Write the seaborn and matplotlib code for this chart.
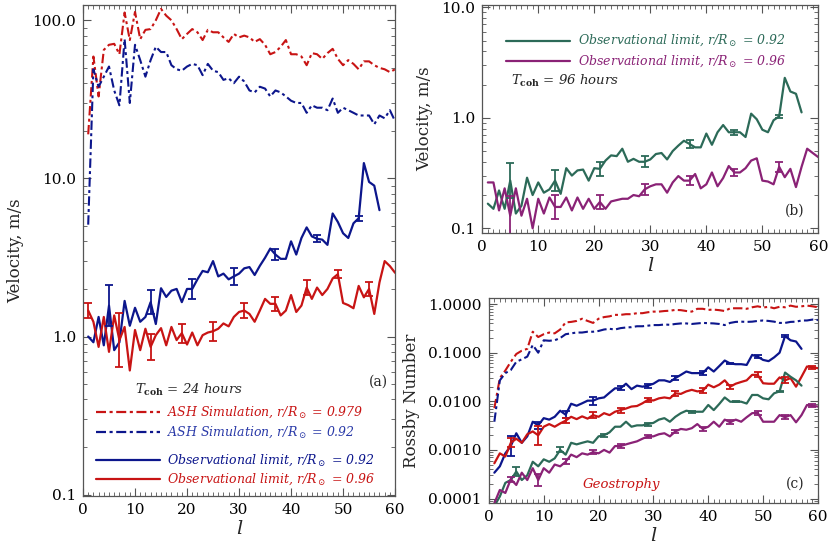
import numpy as np
import pandas as pd
import matplotlib
matplotlib.use('Agg')
import matplotlib.pyplot as plt
import matplotlib.ticker as mticker
import seaborn as sns

# ---------------------------------------------------------
# data
# ---------------------------------------------------------
l_60 = list(range(1, 61))
l_57 = list(range(1, 58))

# (a) velocity, T_coh = 24 h
ash_a_979 = [19, 59, 33, 65, 70, 71, 61, 112, 75, 113, 76, 87, 88, 100, 118, 107, 100, 88, 76, 82,
             88, 84, 75, 87, 84, 84, 78, 73, 82, 78, 80, 78, 73, 76, 70, 61, 63, 68, 75, 61,
             61, 59, 52, 62, 61, 57, 62, 66, 57, 52, 56, 53, 49, 55, 55, 52, 50, 49, 47, 49]
ash_a_92 = [5.1, 49, 38, 44, 51, 36, 29, 76, 30, 70, 56, 44, 56, 68, 63, 63, 52, 49, 48, 51,
            53, 52, 45, 53, 48, 47, 42, 43, 40, 44, 41, 36, 35, 38, 37, 33, 36, 35, 33, 31,
            30, 30, 26, 29, 28, 28, 27, 32, 26, 28, 27, 26, 25, 25, 25, 22, 25, 24, 27, 23]
obs_a_92 = [1.0, 0.92, 1.33, 0.88, 1.57, 0.82, 0.92, 1.68, 1.17, 1.52, 1.24, 1.33, 1.65, 1.2, 2.02,
            1.78, 1.95, 2.0, 1.65, 2.0, 2.0, 2.3, 2.6, 2.55, 3.0, 2.4, 2.5, 2.3, 2.4, 2.5,
            2.7, 2.75, 2.45, 2.8, 3.15, 3.6, 3.3, 3.1, 3.1, 4.0, 3.3, 4.2, 4.9, 4.3, 4.15,
            4.1, 3.8, 6.0, 5.3, 4.5, 4.2, 5.2, 5.6, 12.5, 9.5, 9.0, 6.3]
obs_a_96 = [1.46, 1.24, 0.86, 1.33, 0.80, 1.36, 0.95, 1.15, 0.61, 1.10, 0.82, 1.12, 0.86, 1.02, 1.13,
            0.88, 1.15, 0.95, 1.05, 0.89, 1.06, 0.88, 1.02, 1.06, 1.08, 1.12, 1.21, 1.16, 1.33, 1.43,
            1.46, 1.39, 1.24, 1.46, 1.73, 1.61, 1.61, 1.36, 1.46, 1.83, 1.43, 1.57, 2.04, 1.73, 2.04,
            1.83, 2.0, 2.33, 2.48, 1.63, 1.58, 1.51, 2.09, 1.77, 2.0, 1.39, 2.2, 3.0, 2.79, 2.53]
err_l_a_92 = [5, 13, 21, 29, 37, 45, 53]
err_a_92 = [0.13, 0.077, 0.062, 0.052, 0.035, 0.022, 0.016]       # log10 half width
err_l_a_96 = [1, 7, 13, 19, 25, 31, 37, 43, 49, 55]
err_a_96 = [0.05, 0.17, 0.08, 0.06, 0.06, 0.05, 0.045, 0.047, 0.027, 0.047]

# (b) velocity, T_coh = 96 h
obs_b_92 = [0.167, 0.15, 0.22, 0.15, 0.27, 0.136, 0.16, 0.287, 0.2, 0.26, 0.21, 0.225, 0.27, 0.205,
            0.35, 0.30, 0.334, 0.34, 0.27, 0.35, 0.345, 0.41, 0.457, 0.45, 0.525, 0.40, 0.425, 0.40,
            0.40, 0.42, 0.47, 0.48, 0.42, 0.50, 0.56, 0.62, 0.58, 0.54, 0.54, 0.72, 0.57, 0.74,
            0.86, 0.74, 0.74, 0.74, 0.67, 1.09, 0.97, 0.78, 0.74, 0.95, 1.03, 2.3, 1.73, 1.65, 1.12]
obs_b_96 = [0.26, 0.26, 0.145, 0.23, 0.13, 0.23, 0.13, 0.185, 0.1, 0.185, 0.136, 0.19, 0.156, 0.156,
            0.19, 0.145, 0.19, 0.15, 0.185, 0.15, 0.173, 0.15, 0.175, 0.18, 0.185, 0.185, 0.2, 0.195,
            0.225, 0.24, 0.25, 0.25, 0.21, 0.26, 0.297, 0.27, 0.27, 0.31, 0.23, 0.25, 0.32, 0.24,
            0.285, 0.366, 0.32, 0.32, 0.35, 0.41, 0.43, 0.27, 0.265, 0.25, 0.36, 0.29, 0.345, 0.236,
            0.36, 0.525, 0.48, 0.44]
err_l_b = [5, 13, 21, 29, 37, 45, 53]
err_b_92 = [0.16, 0.096, 0.063, 0.05, 0.035, 0.021, 0.012]
err_b_96 = [0.18, 0.11, 0.06, 0.053, 0.038, 0.03, 0.045]

# (c) Rossby number
ash_c_979 = [0.0072, 0.03, 0.043, 0.065, 0.094, 0.11, 0.12, 0.27, 0.21, 0.24, 0.26, 0.25, 0.3, 0.42,
             0.43, 0.45, 0.5, 0.45, 0.41, 0.5, 0.54, 0.56, 0.6, 0.6, 0.62, 0.62, 0.65, 0.65, 0.68,
             0.7, 0.7, 0.72, 0.73, 0.76, 0.75, 0.72, 0.7, 0.8, 0.8, 0.76, 0.77, 0.75, 0.72, 0.82,
             0.82, 0.82, 0.8, 0.86, 0.9, 0.85, 0.88, 0.82, 0.88, 0.86, 0.93, 0.88, 0.9, 0.93, 0.9, 0.86]
ash_c_92 = [0.0038, 0.027, 0.038, 0.044, 0.065, 0.073, 0.083, 0.144, 0.1, 0.18, 0.176, 0.18, 0.2, 0.24,
            0.25, 0.26, 0.26, 0.27, 0.27, 0.28, 0.3, 0.31, 0.3, 0.32, 0.33, 0.335, 0.35, 0.35, 0.36,
            0.37, 0.37, 0.38, 0.375, 0.39, 0.4, 0.4, 0.39, 0.4, 0.41, 0.405, 0.4, 0.39, 0.37, 0.41,
            0.43, 0.435, 0.43, 0.435, 0.45, 0.46, 0.45, 0.435, 0.41, 0.41, 0.43, 0.435, 0.46, 0.46, 0.48, 0.47]
obs_c_92 = [0.00034, 0.00046, 0.00085, 0.0012, 0.0022, 0.0014, 0.0019, 0.0038, 0.0032, 0.0045,
            0.0042, 0.0048, 0.0064, 0.0053, 0.0089, 0.0081, 0.0091, 0.0103, 0.0103, 0.0115,
            0.012, 0.015, 0.0185, 0.0185, 0.023, 0.0178, 0.021, 0.02, 0.021, 0.023,
            0.027, 0.027, 0.025, 0.03, 0.035, 0.041, 0.038, 0.038, 0.038, 0.05,
            0.041, 0.053, 0.069, 0.06, 0.058, 0.058, 0.056, 0.09, 0.083, 0.071,
            0.067, 0.08, 0.1, 0.22, 0.18, 0.17, 0.12]
obs_c_96 = [0.00053, 0.00085, 0.00073, 0.0014, 0.0017, 0.0014, 0.0021, 0.0024, 0.0020, 0.003,
            0.0034, 0.003, 0.0035, 0.004, 0.0048, 0.0043, 0.0049, 0.0044, 0.0052, 0.0048,
            0.0057, 0.0052, 0.0061, 0.0066, 0.0071, 0.0078, 0.008, 0.0091, 0.0107, 0.0104,
            0.0115, 0.012, 0.0115, 0.0146, 0.0142, 0.016, 0.0172, 0.016, 0.0165, 0.022,
            0.0194, 0.022, 0.027, 0.02, 0.023, 0.025, 0.027, 0.035, 0.035, 0.0235,
            0.023, 0.023, 0.031, 0.027, 0.03, 0.02, 0.032, 0.052, 0.05, 0.048]
obs_c_92g = [0.00007, 0.00011, 0.00021, 0.00024, 0.00036, 0.00024, 0.0003, 0.00057, 0.00046, 0.00064,
             0.00057, 0.00067, 0.001, 0.0008, 0.0014, 0.0013, 0.0014, 0.0015, 0.0014, 0.0019,
             0.002, 0.0023, 0.003, 0.003, 0.0038, 0.003, 0.0032, 0.0032, 0.0034, 0.0036,
             0.0042, 0.0045, 0.0038, 0.0048, 0.0057, 0.0064, 0.0061, 0.0061, 0.0061, 0.0084,
             0.0066, 0.0088, 0.012, 0.0098, 0.0098, 0.0098, 0.009, 0.0135, 0.0135, 0.0115,
             0.011, 0.0146, 0.016, 0.039, 0.032, 0.027, 0.021]
obs_c_96p = [0.00008, 0.00015, 0.00013, 0.00025, 0.00019, 0.00034, 0.00024, 0.00042, 0.00024, 0.00042,
             0.00034, 0.0005, 0.00046, 0.00057, 0.0008, 0.00071, 0.00085, 0.0008, 0.0009, 0.00085,
             0.001, 0.00088, 0.0012, 0.0012, 0.0013, 0.0014, 0.0015, 0.0017, 0.0019, 0.0019,
             0.0021, 0.0022, 0.0019, 0.0024, 0.0027, 0.0026, 0.0028, 0.0034, 0.0027, 0.003,
             0.0038, 0.003, 0.0042, 0.0037, 0.0042, 0.0038, 0.0047, 0.0057, 0.0058, 0.0038,
             0.0038, 0.0038, 0.0052, 0.0047, 0.0052, 0.0037, 0.0052, 0.0084, 0.0081, 0.0078]
err_l_c5 = [4, 9, 14, 19, 24, 29, 34, 39, 44, 49, 54]
err_c_92 = [0.2, 0.07, 0.07, 0.08, 0.04, 0.04, 0.035, 0.035, 0.02, 0.025, 0.025]
err_l_c6 = [4, 9, 14, 19, 24, 29, 34, 39, 44, 49, 54, 59]
err_c_96 = [0.09, 0.2, 0.05, 0.06, 0.05, 0.04, 0.045, 0.05, 0.04, 0.05, 0.06, 0.035]
err_c_96p = [0.05, 0.13, 0.05, 0.04, 0.05, 0.035, 0.035, 0.035, 0.045, 0.035, 0.045, 0.03]
err_l_c8 = [5, 13, 21, 29, 37, 45, 53]
err_c_92g = [0.085, 0.05, 0.03, 0.03, 0.02, 0.015, 0.015]

# ---------------------------------------------------------
# style
# ---------------------------------------------------------
sns.set_style('ticks')
plt.rcParams['font.family'] = ['DejaVu Serif']
plt.rcParams['mathtext.fontset'] = 'dejavuserif'

RED = '#c81414'
BLUE = '#0c168c'
BLUE_T = '#2a3aa8'
GREEN = '#2c6a58'
PURPLE = '#8a2276'
FRAME = '#555555'
DASHDOT = (0, (4.5, 1.6, 1.4, 1.6))


def style_axis(ax, ylim, yticks, ylabels):
    ax.set_yscale('log')
    ax.set_xlim(0, 60)
    ax.set_ylim(*ylim)
    ax.set_yticks(yticks)
    ax.set_yticklabels(ylabels)
    ax.yaxis.set_minor_locator(mticker.LogLocator(base=10, subs=np.arange(2, 10)))
    ax.yaxis.set_minor_formatter(mticker.NullFormatter())
    ax.xaxis.set_major_locator(mticker.MultipleLocator(10))
    ax.xaxis.set_minor_locator(mticker.MultipleLocator(1))
    ax.tick_params(which='both', direction='in', top=True, right=True,
                   color=FRAME, labelsize=11, labelcolor='black')
    ax.tick_params(which='major', length=6, width=0.8, pad=5)
    ax.tick_params(which='minor', length=3, width=0.6)
    for s in ax.spines.values():
        s.set_color(FRAME)
        s.set_linewidth(0.9)
    ax.set_xlabel('l', fontstyle='italic', fontsize=14, labelpad=2)
    ax.grid(False)


def line(ax, x, y, color, dashed=False, lw=1.6):
    df = pd.DataFrame({'l': x, 'v': y})
    sns.lineplot(data=df, x='l', y='v', ax=ax, color=color, lw=lw,
                 linestyle=DASHDOT if dashed else '-', legend=False)


def bars(ax, x_all, y_all, x_err, d_err, color):
    y = np.array([y_all[x_all.index(k)] for k in x_err])
    d = np.array(d_err)
    lo = y * (1 - 10 ** (-d))
    hi = y * (10 ** d - 1)
    ax.errorbar(x_err, y, yerr=[lo, hi], fmt='none', ecolor=color,
                elinewidth=1.3, capsize=3.2, capthick=1.3)


def key(ax, y, color, text, dashed=False, x0=0.042, x1=0.247, tx=0.27, tcolor=None, fs=9):
    ax.plot([x0, x1], [y, y], transform=ax.transAxes, color=color, lw=1.6,
            linestyle=DASHDOT if dashed else '-')
    ax.text(tx, y, text, transform=ax.transAxes, color=tcolor or color, fontsize=fs,
            fontstyle='italic', va='center', ha='left')


fig = plt.figure(figsize=(8.3, 5.53), dpi=100)
ax_a = fig.add_axes([0.100, 0.103, 0.376, 0.888])
ax_b = fig.add_axes([0.581, 0.579, 0.405, 0.412])
ax_c = fig.add_axes([0.589, 0.090, 0.3965, 0.371])

# ---------------------------------------------------------
# (a)
# ---------------------------------------------------------
line(ax_a, l_60, ash_a_979, RED, dashed=True, lw=1.5)
line(ax_a, l_60, ash_a_92, BLUE, dashed=True, lw=1.5)
line(ax_a, l_57, obs_a_92, BLUE)
line(ax_a, l_60, obs_a_96, RED)
bars(ax_a, l_57, obs_a_92, err_l_a_92, err_a_92, BLUE)
bars(ax_a, l_60, obs_a_96, err_l_a_96, err_a_96, RED)
style_axis(ax_a, (0.098, 125), [0.1, 1, 10, 100], ['0.1', '1.0', '10.0', '100.0'])
ax_a.set_ylabel('Velocity, m/s', fontsize=12, labelpad=6)

ax_a.text(0.167, 0.216, r'$T_{\mathbf{coh}}$ = 24 hours', transform=ax_a.transAxes,
          fontsize=9.5, fontstyle='italic', va='center', ha='left')
key(ax_a, 0.171, RED, r'ASH Simulation, r/R$_\odot$ = 0.979', dashed=True)
key(ax_a, 0.130, BLUE, r'ASH Simulation, r/R$_\odot$ = 0.92', dashed=True, tcolor=BLUE_T)
key(ax_a, 0.073, BLUE, r'Observational limit, r/R$_\odot$ = 0.92')
key(ax_a, 0.035, RED, r'Observational limit, r/R$_\odot$ = 0.96')
ax_a.text(0.978, 0.232, '(a)', transform=ax_a.transAxes, fontsize=10, ha='right', va='center')

# ---------------------------------------------------------
# (b)
# ---------------------------------------------------------
line(ax_b, l_57, obs_b_92, GREEN)
line(ax_b, l_60, obs_b_96, PURPLE)
bars(ax_b, l_57, obs_b_92, err_l_b, err_b_92, GREEN)
bars(ax_b, l_60, obs_b_96, err_l_b, err_b_96, PURPLE)
style_axis(ax_b, (0.091, 10.5), [0.1, 1, 10], ['0.1', '1.0', '10.0'])
ax_b.set_ylabel('Velocity, m/s', fontsize=12, labelpad=6)
key(ax_b, 0.843, GREEN, r'Observational limit, r/R$_\odot$ = 0.92', x0=0.071, x1=0.262, tx=0.286)
key(ax_b, 0.754, PURPLE, r'Observational limit, r/R$_\odot$ = 0.96', x0=0.071, x1=0.262, tx=0.286)
ax_b.text(0.0855, 0.667, r'$T_{\mathbf{coh}}$ = 96 hours', transform=ax_b.transAxes,
          fontsize=9.5, fontstyle='italic', va='center', ha='left')
ax_b.text(0.93, 0.098, '(b)', transform=ax_b.transAxes, fontsize=10, ha='center', va='center')

# ---------------------------------------------------------
# (c)
# ---------------------------------------------------------
line(ax_c, l_60, ash_c_979, RED, dashed=True, lw=1.5)
line(ax_c, l_60, ash_c_92, BLUE, dashed=True, lw=1.5)
line(ax_c, l_57, obs_c_92, BLUE)
line(ax_c, l_60, obs_c_96, RED)
line(ax_c, l_57, obs_c_92g, GREEN)
line(ax_c, l_60, obs_c_96p, PURPLE)
bars(ax_c, l_57, obs_c_92, err_l_c5, err_c_92, BLUE)
bars(ax_c, l_60, obs_c_96, err_l_c6, err_c_96, RED)
bars(ax_c, l_57, obs_c_92g, err_l_c8, err_c_92g, GREEN)
bars(ax_c, l_60, obs_c_96p, err_l_c6, err_c_96p, PURPLE)
style_axis(ax_c, (8e-5, 1.33), [1e-4, 1e-3, 1e-2, 1e-1, 1],
           ['0.0001', '0.0010', '0.0100', '0.1000', '1.0000'])
ax_c.set_ylabel('Rossby Number', fontsize=12, labelpad=6)
ax_c.text(0.404, 0.093, 'Geostrophy', transform=ax_c.transAxes, fontsize=9.5,
          fontstyle='italic', color=RED, ha='center', va='center')
ax_c.text(0.93, 0.093, '(c)', transform=ax_c.transAxes, fontsize=10, ha='center', va='center')

fig.savefig('out.png', dpi=100)
